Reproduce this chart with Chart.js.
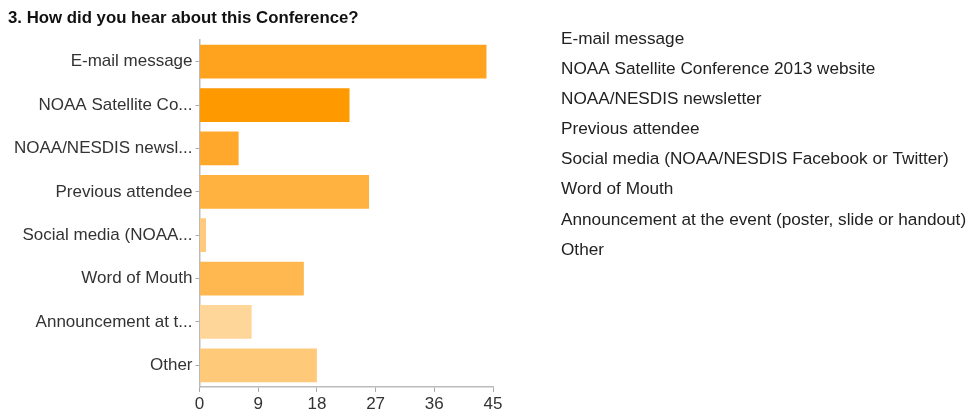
<!DOCTYPE html>
<html>
<head>
<meta charset="utf-8">
<script src="https://cdn.jsdelivr.net/npm/chart.js@4/dist/chart.umd.min.js"></script>
<style>
  html, body { margin: 0; padding: 0; background: #fff; }
  #wrap { width: 977px; height: 410px; position: relative; }
</style>
</head>
<body>
<div id="wrap"><canvas id="c" width="977" height="410"></canvas></div>
<script>
const titleText = "3. How did you hear about this Conference?";
const fullLabels = [
  "E-mail message",
  "NOAA Satellite Conference 2013 website",
  "NOAA/NESDIS newsletter",
  "Previous attendee",
  "Social media (NOAA/NESDIS Facebook or Twitter)",
  "Word of Mouth",
  "Announcement at the event (poster, slide or handout)",
  "Other"
];
const axisLabels = [
  "E-mail message",
  "NOAA Satellite Co...",
  "NOAA/NESDIS newsl...",
  "Previous attendee",
  "Social media (NOAA...",
  "Word of Mouth",
  "Announcement at t...",
  "Other"
];
const counts = [44, 23, 6, 26, 1, 16, 8, 18];
const barColors = ["#FFA21E", "#FF9900", "#FFA82B", "#FFB240", "#FFCA7C", "#FFB850", "#FFD699", "#FFC97A"];
const xTicks = [0, 9, 18, 27, 36, 45];

const FONT = '"Liberation Sans", Arial, sans-serif';

const textPlugin = {
  id: 'textPlugin',
  afterDraw(chart) {
    const ctx = chart.ctx;
    ctx.save();
    ctx.fillStyle = '#111';
    ctx.font = 'bold 16.8px ' + FONT;
    ctx.textBaseline = 'middle';
    ctx.textAlign = 'left';
    ctx.fillText(titleText, 8, 18);
    ctx.fillStyle = '#222';
    ctx.font = '17.2px ' + FONT;
    fullLabels.forEach((t, i) => {
      ctx.fillText(t, 561, 39 + i * 30.15);
    });
    ctx.restore();
  }
};

new Chart(document.getElementById('c'), {
  type: 'bar',
  data: {
    labels: axisLabels,
    datasets: [{
      data: counts,
      backgroundColor: barColors,
      borderWidth: 0,
      categoryPercentage: 1,
      barPercentage: 0.78
    }]
  },
  options: {
    indexAxis: 'y',
    responsive: false,
    animation: false,
    devicePixelRatio: 1,
    layout: { padding: { left: 0, top: 40, right: 484, bottom: 0 } },
    plugins: { legend: { display: false }, tooltip: { enabled: false }, title: { display: false } },
    scales: {
      x: {
        min: 0, max: 45,
        afterBuildTicks(axis) { axis.ticks = xTicks.map(v => ({ value: v })); },
        afterFit(axis) { axis.height = 23; },
        grid: { drawOnChartArea: false, drawTicks: true, tickLength: 5, color: '#aaa' },
        border: { display: true, color: '#bbb', width: 1.5 },
        ticks: { color: '#333', padding: 2, font: { size: 17, family: FONT }, maxRotation: 0 }
      },
      y: {
        afterFit(axis) { axis.width = 199.5; },
        grid: { offset: false, drawOnChartArea: false, drawTicks: true, tickLength: 4, color: '#aaa' },
        border: { display: true, color: '#bbb', width: 1.5 },
        ticks: { color: '#333', padding: 3, font: { size: 17, family: FONT } }
      }
    }
  },
  plugins: [textPlugin]
});
</script>
</body>
</html>
